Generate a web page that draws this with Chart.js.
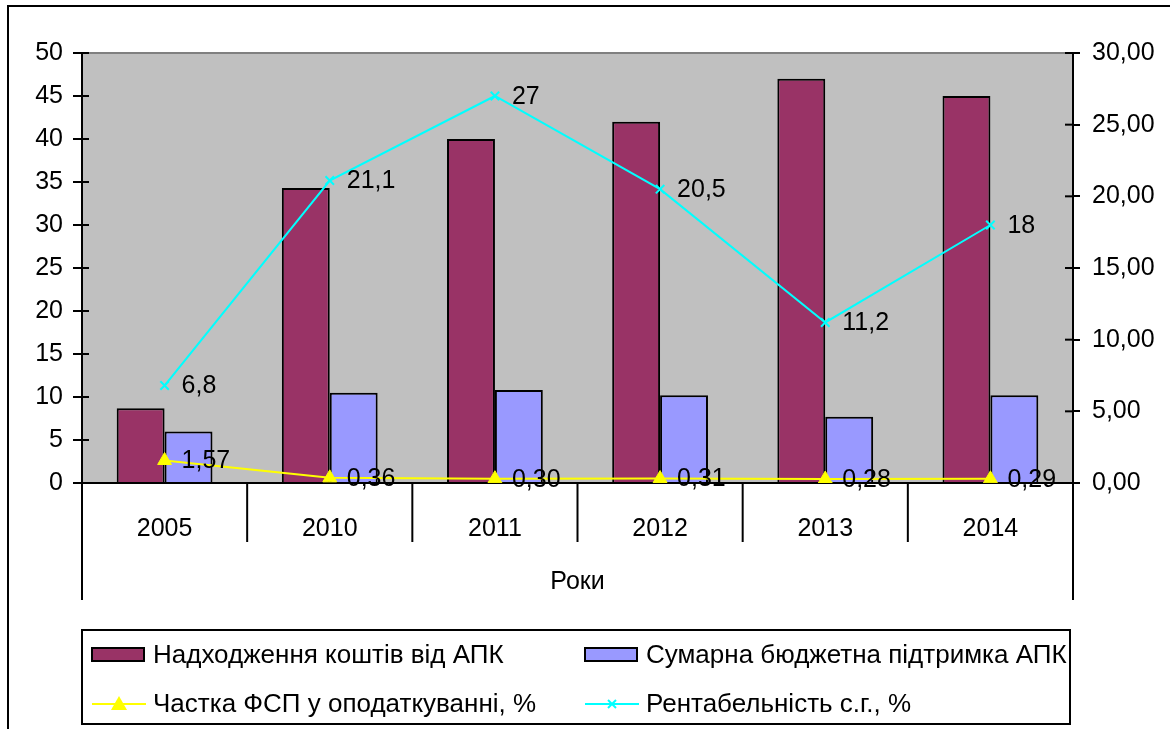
<!DOCTYPE html>
<html><head><meta charset="utf-8">
<script src="https://cdn.jsdelivr.net/npm/chart.js@4.4.0/dist/chart.umd.min.js"></script>
<style>html,body{margin:0;padding:0;background:#fff;overflow:hidden;}canvas{display:block;}</style>
</head><body>
<canvas id="c" width="1170" height="729"></canvas>
<script>
const categories = ['2005', '2010', '2011', '2012', '2013', '2014'];
const incomeAPK = [8.7, 34.3, 40, 42, 47, 45];
const budgetSupport = [6, 10.5, 10.8, 10.2, 7.7, 10.2];
const fspShare = [1.57, 0.36, 0.30, 0.31, 0.28, 0.29];
const profitability = [6.8, 21.1, 27, 20.5, 11.2, 18];
const leftAxis = { min: 0, max: 50, step: 5 };
const rightAxis = { min: 0, max: 30, step: 5 };
const seriesNames = ['Надходження коштів від АПК', 'Сумарна бюджетна підтримка АПК', 'Частка ФСП у оподаткуванні, %', 'Рентабельність с.г., %'];
const xTitle = 'Роки';

const FONT = '"Liberation Sans", Arial, sans-serif';
const FS = 25;
const LFS = 26;
const comma = (s) => String(s).replace('.', ',');

function line(ctx, x1, y1, x2, y2) { ctx.beginPath(); ctx.moveTo(x1, y1); ctx.lineTo(x2, y2); ctx.stroke(); }

const decor = {
  id: 'decor',
  beforeDraw(chart) {
    const { ctx, chartArea: a } = chart;
    ctx.save();
    ctx.fillStyle = '#fff'; ctx.fillRect(0, 0, chart.width, chart.height);
    ctx.fillStyle = '#C0C0C0'; ctx.fillRect(a.left, a.top, a.right - a.left, a.bottom - a.top);
    ctx.strokeStyle = '#808080'; ctx.lineWidth = 2; line(ctx, a.left, a.top, a.right, a.top);
    ctx.strokeStyle = '#000'; ctx.lineWidth = 2;
    ctx.beginPath(); ctx.moveTo(8, chart.height); ctx.lineTo(8, 6); ctx.lineTo(chart.width, 6); ctx.stroke();
    ctx.restore();
  },
  afterDraw(chart) {
    const { ctx, chartArea: a } = chart;
    const xs = chart.scales.x;
    ctx.save();
    ctx.strokeStyle = '#000'; ctx.lineWidth = 2;
    // category dividers
    const n = categories.length;
    for (let i = 0; i <= n; i++) {
      let px, len;
      if (i === 0) { px = a.left; len = 117; }
      else if (i === n) { px = a.right; len = 117; }
      else { px = (xs.getPixelForTick(i - 1) + xs.getPixelForTick(i)) / 2; len = 59; }
      line(ctx, px, a.bottom, px, a.bottom + len);
    }
    // inner tick halves
    chart.scales.y.ticks.forEach((t, i) => {
      const py = chart.scales.y.getPixelForTick(i);
      line(ctx, a.left, py, a.left + 7, py);
    });
    chart.scales.y1.ticks.forEach((t, i) => {
      const py = chart.scales.y1.getPixelForTick(i);
      line(ctx, a.right - 8, py, a.right, py);
    });
    // data labels
    ctx.fillStyle = '#000';
    ctx.font = FS + 'px ' + FONT;
    ctx.textAlign = 'left'; ctx.textBaseline = 'middle';
    const m2 = chart.getDatasetMeta(2), m3 = chart.getDatasetMeta(3);
    m3.data.forEach((p, i) => ctx.fillText(comma(profitability[i]), p.x + 17, p.y + 1));
    m2.data.forEach((p, i) => ctx.fillText(comma(fspShare[i].toFixed(2)), p.x + 17, p.y + 1));
    // legend
    ctx.lineWidth = 2; ctx.strokeStyle = '#000';
    ctx.strokeRect(a.left, 630, (a.right - 3) - a.left, 94);
    const cols = [a.left + 10, a.left + 503];
    const rows = [655, 704];
    const ds = chart.data.datasets;
    for (let k = 0; k < 4; k++) {
      const cx = cols[k % 2], cy = rows[Math.floor(k / 2)];
      if (k < 2) {
        ctx.fillStyle = ds[k].backgroundColor;
        ctx.fillRect(cx, cy - 7, 52, 13);
        ctx.lineWidth = 2; ctx.strokeStyle = '#000';
        ctx.strokeRect(cx, cy - 7, 52, 13);
      } else {
        ctx.strokeStyle = ds[k].borderColor; ctx.lineWidth = 2;
        line(ctx, cx, cy, cx + 54, cy);
        const mx = cx + 27;
        if (k === 2) {
          ctx.fillStyle = ds[k].pointBackgroundColor;
          ctx.beginPath(); ctx.moveTo(mx, cy - 8); ctx.lineTo(mx + 8, cy + 6); ctx.lineTo(mx - 8, cy + 6); ctx.closePath(); ctx.fill();
        } else {
          ctx.lineWidth = 2;
          line(ctx, mx - 4, cy - 4, mx + 4, cy + 4); line(ctx, mx - 4, cy + 4, mx + 4, cy - 4);
        }
      }
      ctx.fillStyle = '#000';
      ctx.font = LFS + 'px ' + FONT;
      ctx.textAlign = 'left'; ctx.textBaseline = 'middle';
      ctx.fillText(seriesNames[k], cx + 61, cy + 1);
    }
    ctx.restore();
  }
};

new Chart(document.getElementById('c'), {
  type: 'bar',
  data: {
    labels: categories,
    datasets: [
      { type: 'bar', label: seriesNames[0], data: incomeAPK, yAxisID: 'y', backgroundColor: '#993366', borderColor: '#000', borderWidth: 2, order: 2 },
      { type: 'bar', label: seriesNames[1], data: budgetSupport, yAxisID: 'y', backgroundColor: '#9999FF', borderColor: '#000', borderWidth: 2, order: 2 },
      { type: 'line', label: seriesNames[2], data: fspShare, yAxisID: 'y1', borderColor: '#FFFF00', borderWidth: 2, pointStyle: 'triangle', pointRadius: 8, pointBackgroundColor: '#FFFF00', pointBorderColor: '#FFFF00', pointBorderWidth: 1, tension: 0, order: 1 },
      { type: 'line', label: seriesNames[3], data: profitability, yAxisID: 'y1', borderColor: '#00FFFF', borderWidth: 2, pointStyle: 'crossRot', pointRadius: 6, pointBorderColor: '#00FFFF', pointBorderWidth: 2, tension: 0, order: 0 }
    ]
  },
  options: {
    responsive: false,
    animation: false,
    devicePixelRatio: 1,
    layout: { padding: { top: 53, bottom: 129, left: 0, right: 0 } },
    datasets: { bar: { categoryPercentage: 0.58, barPercentage: 1 } },
    plugins: { legend: { display: false }, tooltip: { enabled: false } },
    scales: {
      x: {
        grid: { display: false, drawTicks: false },
        border: { display: true, color: '#000', width: 2 },
        ticks: { color: '#000', font: { family: FONT, size: FS }, padding: 31, maxRotation: 0 },
        title: { display: true, text: xTitle, color: '#000', font: { family: FONT, size: FS }, padding: { top: 0, bottom: 3 } },
        afterFit(s) { s.height = 117; }
      },
      y: {
        position: 'left', min: leftAxis.min, max: leftAxis.max,
        ticks: { stepSize: leftAxis.step, color: '#000', font: { family: FONT, size: FS }, padding: 10 },
        grid: { drawOnChartArea: false, drawTicks: true, tickLength: 9, color: '#000', lineWidth: 2 },
        border: { display: true, color: '#000', width: 2 },
        afterFit(s) { s.width = 82; }
      },
      y1: {
        position: 'right', min: rightAxis.min, max: rightAxis.max,
        ticks: { stepSize: rightAxis.step, color: '#000', font: { family: FONT, size: FS }, padding: 12, callback: (v) => comma(Number(v).toFixed(2)) },
        grid: { drawOnChartArea: false, drawTicks: true, tickLength: 7, color: '#000', lineWidth: 2 },
        border: { display: true, color: '#000', width: 2 },
        afterFit(s) { s.width = 97; }
      }
    }
  },
  plugins: [decor]
});
</script>
</body></html>
